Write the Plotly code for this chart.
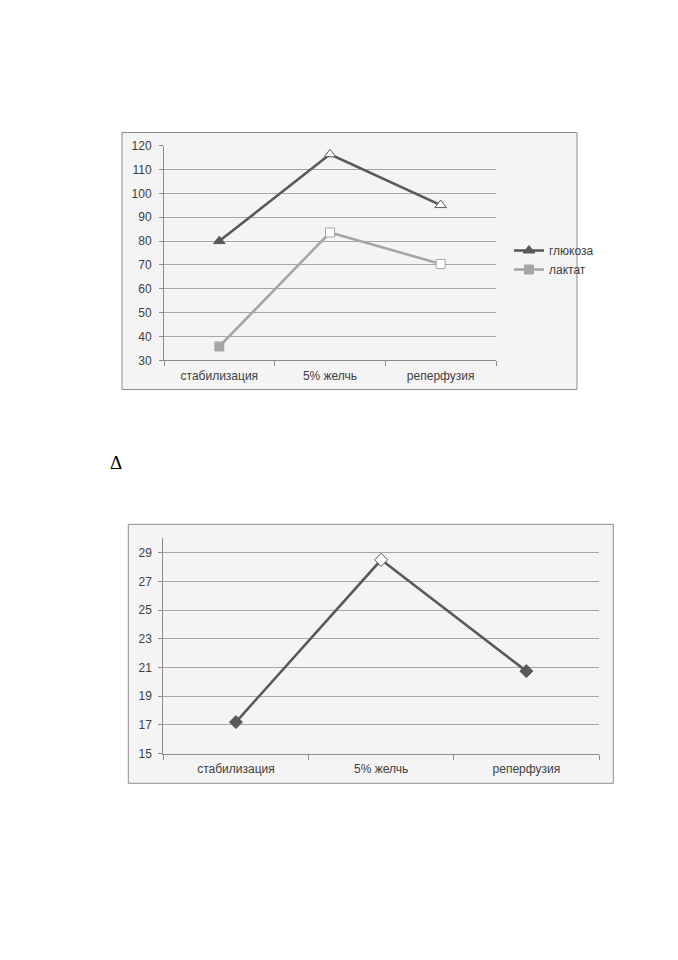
import plotly.graph_objects as go

W, H = 678, 960
OFF = 8  # page body margin

categories = ["стабилизация", "5% желчь", "реперфузия"]
glucose = [80, 116.4, 95.1]
lactate = [35.8, 83.6, 70.4]
bile_values = [17.2, 28.5, 20.75]

top_ticks = [30, 40, 50, 60, 70, 80, 90, 100, 110, 120]
bottom_ticks = [15, 17, 19, 21, 23, 25, 27, 29]

FONT = "Liberation Sans"
TXT = "#404040"
GRID = "#a6a6a6"
AXIS = "#8c8c8c"


def px_x(p):
    return (p - OFF) / W


def px_y(p):
    return 1 - (p - OFF) / H


fig = go.Figure()

fig.add_trace(go.Scatter(
    x=categories, y=glucose, name="глюкоза", mode="lines+markers",
    line=dict(color="#595959", width=2.6),
    marker=dict(symbol="triangle-up", size=10,
                color=["#595959", "#ffffff", "#ffffff"],
                line=dict(color="#595959", width=1)),
    xaxis="x", yaxis="y",
))
fig.add_trace(go.Scatter(
    x=categories, y=lactate, name="лактат", mode="lines+markers",
    line=dict(color="#a6a6a6", width=2.6),
    marker=dict(symbol="square", size=9,
                color=["#a6a6a6", "#ffffff", "#ffffff"],
                line=dict(color="#a6a6a6", width=1)),
    xaxis="x", yaxis="y",
))
fig.add_trace(go.Scatter(
    x=categories, y=bile_values, name="", mode="lines+markers", showlegend=False,
    line=dict(color="#595959", width=2.6),
    marker=dict(symbol="diamond", size=10,
                color=["#595959", "#ffffff", "#595959"],
                line=dict(color="#595959", width=1)),
    xaxis="x2", yaxis="y2",
))

axis_common_x = dict(
    type="category", showgrid=False, showline=True, linecolor=AXIS, linewidth=1,
    ticks="outside", ticklen=5, tickcolor=AXIS, tickson="boundaries",
    tickfont=dict(family=FONT, size=12, color=TXT), zeroline=False,
    fixedrange=True, automargin=False, range=[-0.5, 2.5], ticklabelstandoff=4,
)
axis_common_y = dict(
    showgrid=True, gridcolor=GRID, gridwidth=1, showline=True, linecolor=AXIS,
    linewidth=1, ticks="outside", ticklen=4, tickcolor=AXIS, zeroline=False,
    tickfont=dict(family=FONT, size=12, color=TXT), fixedrange=True,
    automargin=False,
)

fig.update_layout(
    width=W, height=H,
    margin=dict(l=0, r=0, t=0, b=0, pad=0, autoexpand=False),
    paper_bgcolor="white",
    plot_bgcolor="rgba(0,0,0,0)",
    xaxis=dict(axis_common_x, domain=[px_x(164), px_x(496)], anchor="y"),
    yaxis=dict(axis_common_y, domain=[px_y(360.3), px_y(145.7)], range=[30, 120],
               tickvals=top_ticks, anchor="x", ticklabelstandoff=5),
    xaxis2=dict(axis_common_x, domain=[px_x(163.3), px_x(599)], anchor="y2"),
    yaxis2=dict(axis_common_y, domain=[px_y(753.7), px_y(538.3)], range=[15, 30],
                tickvals=bottom_ticks, anchor="x2", ticklabelstandoff=4),
    showlegend=True,
    legend=dict(
        x=px_x(509), y=px_y(236), xanchor="left", yanchor="top",
        bgcolor="rgba(0,0,0,0)", font=dict(family=FONT, size=12, color=TXT),
        itemwidth=30, tracegroupgap=2,
    ),
    shapes=[
        dict(type="rect", xref="paper", yref="paper",
             x0=px_x(122), x1=px_x(577), y0=px_y(389.5), y1=px_y(132.5),
             fillcolor="#f4f4f4", line=dict(color="#8c8c8c", width=1), layer="below"),
        dict(type="rect", xref="paper", yref="paper",
             x0=px_x(128.3), x1=px_x(613.3), y0=px_y(783.3), y1=px_y(524.3),
             fillcolor="#f4f4f4", line=dict(color="#8c8c8c", width=1), layer="below"),
    ],
    annotations=[
        dict(text="Δ", xref="paper", yref="paper", x=px_x(116), y=px_y(463),
             xanchor="center", yanchor="middle", showarrow=False,
             font=dict(family="Liberation Serif", size=19, color="black")),
    ],
)

fig.write_html("out.html")
